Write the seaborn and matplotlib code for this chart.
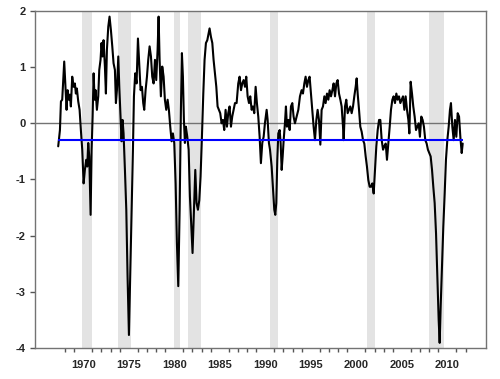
import pandas as pd
import matplotlib
matplotlib.use("Agg")
import matplotlib.pyplot as plt
import seaborn as sns

# index values (decimal year, value)
years = [
    1967.25, 1967.44, 1967.55, 1967.69, 1967.91, 1968.06, 1968.17, 1968.28, 1968.42, 1968.53,
    1968.64, 1968.79, 1968.94, 1969.08, 1969.19, 1969.30, 1969.45, 1969.60, 1969.74, 1969.89,
    1970.04, 1970.18, 1970.33, 1970.44, 1970.55, 1970.66, 1970.81, 1970.92, 1971.03, 1971.14,
    1971.25, 1971.36, 1971.50, 1971.65, 1971.76, 1971.90, 1972.01, 1972.12, 1972.23, 1972.38,
    1972.49, 1972.60, 1972.75, 1972.89, 1973.04, 1973.19, 1973.33, 1973.48, 1973.59, 1973.70,
    1973.85, 1973.96, 1974.10, 1974.21, 1974.32, 1974.43, 1974.58, 1974.73, 1974.87, 1975.02,
    1975.16, 1975.31, 1975.46, 1975.57, 1975.71, 1975.86, 1976.01, 1976.15, 1976.30, 1976.45,
    1976.59, 1976.70, 1976.85, 1977.00, 1977.14, 1977.29, 1977.44, 1977.58, 1977.73, 1977.88,
    1978.02, 1978.17, 1978.28, 1978.39, 1978.53, 1978.68, 1978.83, 1978.97, 1979.12, 1979.27,
    1979.41, 1979.56, 1979.71, 1979.85, 1980.00, 1980.15, 1980.29, 1980.44, 1980.59, 1980.73,
    1980.84, 1980.95, 1981.06, 1981.17, 1981.28, 1981.43, 1981.58, 1981.72, 1981.87, 1982.01,
    1982.16, 1982.31, 1982.45, 1982.60, 1982.75, 1982.89, 1983.04, 1983.19, 1983.33, 1983.48,
    1983.63, 1983.77, 1983.88, 1984.03, 1984.18, 1984.32, 1984.47, 1984.62, 1984.76, 1984.91,
    1985.05, 1985.20, 1985.35, 1985.49, 1985.64, 1985.79, 1985.93, 1986.08, 1986.23, 1986.37,
    1986.52, 1986.67, 1986.85, 1987.03, 1987.18, 1987.33, 1987.47, 1987.62, 1987.77, 1987.91,
    1988.06, 1988.21, 1988.35, 1988.50, 1988.64, 1988.79, 1988.94, 1989.08, 1989.23, 1989.38,
    1989.52, 1989.67, 1989.82, 1989.96, 1990.15, 1990.26, 1990.40,
    1990.52, 1990.70, 1990.88, 1990.99, 1991.10, 1991.21, 1991.32, 1991.43, 1991.58, 1991.69,
    1991.80, 1991.91, 1992.02, 1992.16, 1992.27, 1992.38, 1992.53, 1992.68, 1992.82, 1992.97,
    1993.11, 1993.26, 1993.45, 1993.63, 1993.81, 1993.99, 1994.14, 1994.29, 1994.43, 1994.58,
    1994.73, 1994.87, 1995.02, 1995.17, 1995.31, 1995.46, 1995.61, 1995.75, 1995.90, 1996.05,
    1996.19, 1996.34, 1996.49, 1996.63, 1996.78, 1996.93, 1997.07, 1997.22, 1997.37, 1997.51,
    1997.66, 1997.81, 1997.95, 1998.10, 1998.25, 1998.39, 1998.54, 1998.61, 1998.76, 1998.90,
    1999.05, 1999.20, 1999.34, 1999.49, 1999.64, 1999.78, 1999.93, 2000.04, 2000.15, 2000.30,
    2000.44, 2000.59, 2000.74, 2000.88, 2001.03, 2001.17, 2001.32, 2001.47, 2001.61, 2001.76,
    2001.91, 2002.06, 2002.20, 2002.35, 2002.50, 2002.64, 2002.79, 2002.94, 2003.08, 2003.23,
    2003.37, 2003.52, 2003.67, 2003.81, 2003.96, 2004.10, 2004.25, 2004.40, 2004.54, 2004.69,
    2004.84, 2004.98, 2005.13, 2005.28, 2005.42, 2005.57, 2005.72, 2005.83, 2005.97, 2006.12,
    2006.26, 2006.41, 2006.56, 2006.70, 2006.85, 2006.99, 2007.14, 2007.29, 2007.43, 2007.58,
    2007.73, 2007.87, 2008.02, 2008.17, 2008.32, 2008.46, 2008.61, 2008.76, 2008.90, 2009.05,
    2009.16, 2009.27, 2009.41, 2009.56, 2009.71, 2009.85, 2010.00, 2010.15, 2010.29, 2010.40,
    2010.55, 2010.70, 2010.84, 2010.99, 2011.14, 2011.29, 2011.43, 2011.58, 2011.69,
]
index_values = [
    -0.41, -0.12, 0.39, 0.42, 1.10, 0.59, 0.24, 0.59, 0.42, 0.51,
    0.30, 0.83, 0.65, 0.71, 0.53, 0.62, 0.39, 0.24, -0.12, -0.47,
    -1.07, -0.83, -0.65, -0.77, -0.35, -0.59, -1.63, -0.47, 0.12, 0.89,
    0.42, 0.59, 0.24, 0.48, 0.95, 1.13, 1.43, 1.19, 1.48, 1.01,
    0.53, 1.31, 1.72, 1.90, 1.66, 1.37, 1.07, 0.95, 0.36, 0.59,
    1.19, 0.65, 0.12, -0.32, 0.06, -0.18, -0.83, -1.54, -2.73, -3.77,
    -2.73, -1.54, -0.47, 0.48, 0.89, 0.71, 1.51, 1.07, 0.59, 0.65,
    0.36, 0.24, 0.59, 0.83, 1.13, 1.37, 1.19, 0.83, 0.71, 1.13,
    0.77, 1.31, 1.90, 1.13, 0.48, 1.01, 0.83, 0.42, 0.24, 0.42,
    0.24, -0.06, -0.32, -0.18, -0.35, -1.07, -2.13, -2.90, -1.54, 0.24,
    1.25, 0.83, 0.06, -0.35, -0.06, -0.24, -0.47, -1.30, -1.84, -2.31,
    -1.54, -0.83, -1.42, -1.54, -1.37, -0.95, -0.24, 0.53, 1.13, 1.43,
    1.48, 1.60, 1.69, 1.54, 1.43, 1.13, 0.89, 0.65, 0.30, 0.24,
    0.18, 0.00, 0.06, -0.12, 0.24, -0.06, 0.18, 0.30, -0.06, 0.12,
    0.24, 0.36, 0.36, 0.71, 0.83, 0.59, 0.71, 0.77, 0.65, 0.83,
    0.48, 0.36, 0.48, 0.24, 0.30, 0.18, 0.65, 0.36, 0.12, -0.24,
    -0.71, -0.35, -0.24, 0.00, 0.24, 0.06, -0.35,
    -0.47, -0.77, -1.25, -1.54, -1.63, -1.42, -0.65, -0.18, -0.12, -0.36,
    -0.83, -0.59, -0.30, 0.00, 0.30, -0.06, 0.06, -0.12, 0.30, 0.36,
    0.12, 0.00, 0.12, 0.24, 0.48, 0.59, 0.53, 0.71, 0.83, 0.65,
    0.77, 0.83, 0.53, 0.24, -0.06, -0.30, 0.06, 0.24, 0.06, -0.38,
    0.24, 0.30, 0.48, 0.36, 0.53, 0.42, 0.59, 0.48, 0.59, 0.71,
    0.48, 0.71, 0.77, 0.53, 0.42, 0.30, -0.06, -0.30, 0.30, 0.42,
    0.18, 0.24, 0.30, 0.18, 0.30, 0.48, 0.65, 0.80, 0.53, 0.24,
    -0.06, -0.15, -0.30, -0.36, -0.59, -0.77, -1.01, -1.13, -1.13, -1.07,
    -1.25, -0.83, -0.41, -0.12, 0.06, 0.06, -0.30, -0.47, -0.41, -0.36,
    -0.65, -0.36, -0.06, 0.24, 0.42, 0.48, 0.36, 0.53, 0.42, 0.48,
    0.36, 0.42, 0.48, 0.24, 0.48, 0.24, 0.06, -0.18, 0.74, 0.53,
    0.30, 0.12, -0.12, -0.06, 0.00, -0.24, 0.12, 0.06, -0.06, -0.30,
    -0.36, -0.47, -0.53, -0.59, -0.83, -1.13, -1.42, -1.96, -2.73, -3.50,
    -3.91, -3.26, -2.55, -1.84, -1.25, -0.65, -0.30, -0.06, 0.24, 0.36,
    -0.06, -0.30, 0.06, -0.24, 0.18, 0.12, -0.24, -0.53, -0.36,
]

# recession periods (shaded)
rec_start = [1969.85, 1973.82, 1979.97, 1981.48, 1990.52, 2001.22, 2007.98]
rec_end = [1970.92, 1975.27, 1980.62, 1982.90, 1991.36, 2002.05, 2009.62]

threshold = -0.29

df = pd.DataFrame({"year": years, "value": index_values})

sns.set_style("white")
plt.rcParams["font.family"] = ["Liberation Sans", "DejaVu Sans"]

fig = plt.figure(figsize=(5, 3.79), dpi=100)
ax = fig.add_axes([0.07, 0.082, 0.902, 0.889])

for s, e in zip(rec_start, rec_end):
    ax.axvspan(s, e, color="#e3e3e3", lw=0, zorder=1)

ax.axhline(0, color="#737373", lw=1.0, zorder=2)
sns.lineplot(data=df, x="year", y="value", color="black", lw=1.5, ax=ax, zorder=3)
ax.hlines(threshold, years[0], years[-1], color="#0000ff", lw=1.5, zorder=4)

ax.set_xlim(1964.7, 2014.25)
ax.set_ylim(-4, 2)
ax.set_xlabel("")
ax.set_ylabel("")

ax.set_xticks(range(1970, 2011, 5))
ax.set_xticks(range(1968, 2013), minor=True)
ax.set_yticks(range(-4, 3))
ax.set_yticklabels([str(v) for v in range(-4, 3)])

ax.tick_params(axis="x", which="major", direction="out", length=4.3, width=1,
               color="#555555", pad=4.3, labelsize=8)
ax.tick_params(axis="x", which="minor", direction="out", length=2.8, width=1,
               color="#555555", bottom=True)
ax.tick_params(axis="y", direction="out", length=3.6, width=1, color="#555555",
               pad=3.3, labelsize=8, left=True)
for lab in ax.get_xticklabels() + ax.get_yticklabels():
    lab.set_fontweight("bold")

for sp in ax.spines.values():
    sp.set_color("#737373")
    sp.set_linewidth(1.0)
    sp.set_visible(True)

fig.savefig("out.png", dpi=100)
